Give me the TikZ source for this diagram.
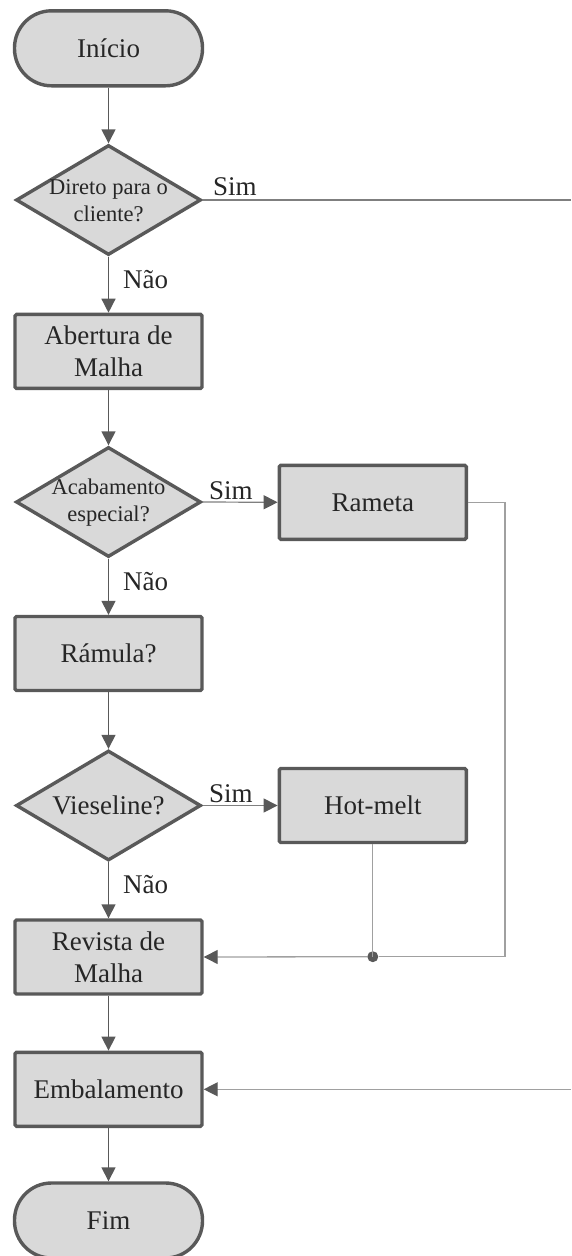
\documentclass[tikz,border=0pt]{standalone}
\usepackage{fontspec}
\setmainfont{Liberation Serif}
\usetikzlibrary{shapes.geometric,arrows.meta}
\definecolor{boxfill}{HTML}{D9D9D9}
\definecolor{boxline}{HTML}{595959}
\definecolor{txt}{HTML}{262626}
\definecolor{sideline}{HTML}{A0A0A0}
\definecolor{yesline}{HTML}{7F7F7F}
\tikzset{
  base/.style={draw=boxline, fill=boxfill, line width=3.4pt, text=txt,
    inner sep=0pt, align=center, font=\fontsize{27}{32}\selectfont},
  process/.style={base, rectangle, rounded corners=1.5pt,
    minimum width=187pt, minimum height=74pt},
  terminal/.style={base, rectangle, rounded corners=37pt,
    minimum width=188pt, minimum height=75pt},
  decision/.style={base, diamond, minimum width=185pt, minimum height=110pt},
  dtext/.style={text=txt, inner sep=0pt, align=center},
  small/.style={font=\fontsize{22.5}{27}\selectfont},
  large/.style={font=\fontsize{27}{32}\selectfont},
  lbl/.style={text=txt, inner sep=0pt, font=\fontsize{27}{32}\selectfont},
  tip/.style={-{Triangle[length=14pt,width=14pt,color=boxline,fill=boxline]}},
  flow/.style={tip, draw=boxline, line width=1.4pt},
  yes/.style={draw=yesline, line width=1.2pt},
  back/.style={draw=sideline, line width=1.3pt},
  dot/.style={circle, fill=boxline, inner sep=0pt, minimum size=11pt}
}
\begin{document}
\begin{tikzpicture}[x=1pt, y=-1pt]
  \useasboundingbox (0,0) rectangle (571,1256);

  % main column
  \node[terminal] (inicio) at (108.5,48.3) {Início};
  \node[decision] (d1) at (108.5,200) {};
  \node[dtext, small] (d1t) at (108.5,201) {Direto para o\\cliente?};
  \node[process] (abert) at (108.5,351.4) {Abertura de\\Malha};
  \node[decision] (d2) at (108.5,502) {};
  \node[dtext, small] (d2t) at (108.5,503) {Acabamento\\especial?};
  \node[process] (ramula) at (108.5,653.5) {Rámula?};
  \node[decision] (d3) at (108.5,805.5) {};
  \node[dtext, large] (d3t) at (108.5,805.5) {Vieseline?};
  \node[process] (revista) at (108.5,957) {Revista de\\Malha};
  \node[process] (emb) at (108.5,1089.3) {Embalamento};
  \node[terminal] (fim) at (108.5,1220.5) {Fim};

  % side branches
  \node[process] (rameta) at (372.8,502.3) {Rameta};
  \node[process] (hotmelt) at (372.8,805.5) {Hot-melt};

  % off-page ends on the right
  \coordinate (outA) at (571,200);
  \coordinate (outB) at (571,1089.3);
  \coordinate (turn) at (505,956.7);
  \coordinate (cornerR) at (505,502.3);
  \node[dot] (join) at (372.8,956.7) {};

  % main flow
  \draw[flow] (inicio) -- (d1);
  \draw[flow] (d1) -- (abert);
  \draw[flow] (abert) -- (d2);
  \draw[flow] (d2) -- (ramula);
  \draw[flow] (ramula) -- (d3);
  \draw[flow] (d3) -- (revista);
  \draw[flow] (revista) -- (emb);
  \draw[flow] (emb) -- (fim);

  % yes branches
  \draw[yes] (d1.east) -- (outA);
  \draw[yes, tip] (d2.east) -- (rameta.west);
  \draw[yes, tip] (d3.east) -- (hotmelt.west);

  % returns
  \draw[back] (rameta.east) -- (cornerR) -- (turn) -- (join);
  \draw[back] (hotmelt.south) -- (join.center);
  \draw[back, tip] (join) -- (revista.east);
  \draw[back, tip] (outB) -- (emb.east);

  % labels
  \node[lbl, anchor=base west] (s1) at (213,195) {Sim};
  \node[lbl, anchor=base west] (n1) at (123,288) {Não};
  \node[lbl, anchor=base west] (s2) at (209,499) {Sim};
  \node[lbl, anchor=base west] (n2) at (123,590) {Não};
  \node[lbl, anchor=base west] (s3) at (209,802) {Sim};
  \node[lbl, anchor=base west] (n3) at (123,893) {Não};
\end{tikzpicture}
\end{document}
